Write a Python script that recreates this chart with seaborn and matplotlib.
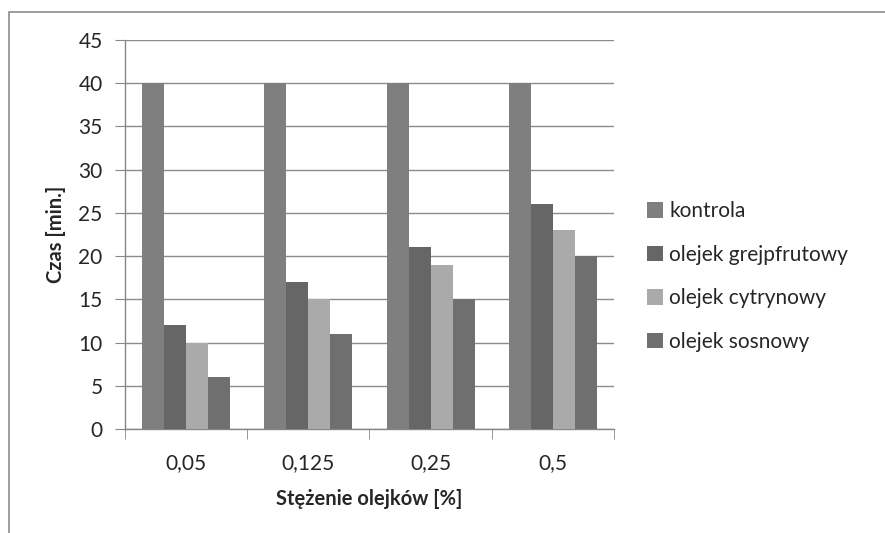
import pandas as pd
import seaborn as sns
import matplotlib.pyplot as plt
from matplotlib.patches import Rectangle
from matplotlib.ticker import FixedLocator

stezenia = ['0,05', '0,125', '0,25', '0,5']
serie = ['kontrola', 'olejek grejpfrutowy', 'olejek cytrynowy', 'olejek sosnowy']
kontrola = [40, 40, 40, 40]
grejpfrut = [12, 17, 21, 26]
cytryna = [10, 15, 19, 23]
sosna = [6, 11, 15, 20]
kolory = ['#7f7f7f', '#666666', '#aaaaaa', '#6f6f6f']


def main():
    rows = []
    for nazwa, vals in zip(serie, [kontrola, grejpfrut, cytryna, sosna]):
        for s, v in zip(stezenia, vals):
            rows.append({'stezenie': s, 'seria': nazwa, 'czas': v})
    df = pd.DataFrame(rows)

    sns.set_style('white')
    plt.rcParams['font.family'] = ['Lato', 'DejaVu Sans']

    fig = plt.figure(figsize=(8.85, 5.33), dpi=100)
    ax = fig.add_axes([0.1412, 0.1951, 0.5526, 0.7299])

    # ramka wykresu (widoczna tylko lewa i gorna krawedz)
    fig.patches.append(Rectangle((9 / 885, -0.1), 1.2, 1 - 12 / 533 + 0.1,
                                 transform=fig.transFigure, fill=False,
                                 edgecolor='#8c8c8c', linewidth=1.2))

    sns.barplot(data=df, x='stezenie', y='czas', hue='seria', order=stezenia,
                hue_order=serie, palette=kolory, width=0.72, gap=0,
                edgecolor='none', linewidth=0, ax=ax, legend=True, zorder=3)

    ax.set_ylim(0, 45)
    ax.set_yticks(range(0, 46, 5))
    ax.set_xlim(-0.5, 3.5)
    ax.yaxis.grid(True, color='#8c8c8c', linewidth=1)
    ax.set_axisbelow(True)
    for side in ['top', 'right']:
        ax.spines[side].set_visible(False)
    for side in ['left', 'bottom']:
        ax.spines[side].set_color('#868686')
        ax.spines[side].set_linewidth(1)

    ax.tick_params(axis='y', which='major', length=7, color='#868686',
                   labelsize=15, pad=9, left=True)
    ax.tick_params(axis='x', which='major', length=0, labelsize=15, pad=17)
    ax.xaxis.set_minor_locator(FixedLocator([-0.5, 0.5, 1.5, 2.5, 3.5]))
    ax.tick_params(axis='x', which='minor', length=7, color='#868686', bottom=True)

    ax.set_ylabel('Czas [min.]', fontsize=14.5, fontweight='bold')
    ax.set_xlabel('Stężenie olejków [%]', fontsize=14.5, fontweight='bold')
    ax.yaxis.set_label_coords(-0.12, 0.5)
    ax.xaxis.set_label_coords(0.5, -0.155)

    ax.legend(loc='center left', bbox_to_anchor=(1.03, 0.392), frameon=False,
              fontsize=15, labelspacing=1.13, handlelength=0.75, handleheight=0.75,
              handletextpad=0.3)

    fig.savefig('out.png', dpi=100)


if __name__ == "__main__":
    main()
